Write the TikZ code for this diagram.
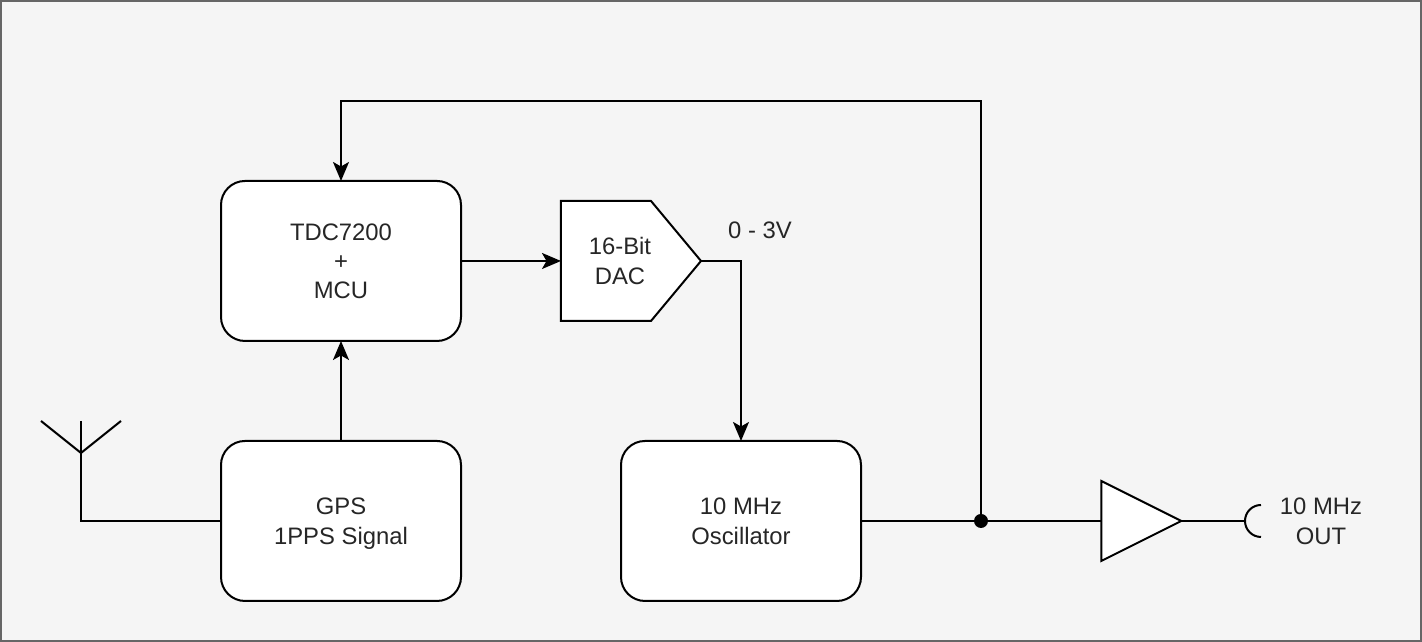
\documentclass[tikz,border=0pt]{standalone}
\usepackage{fontspec}
\setmainfont{Liberation Sans}
\usepackage{tikz}
\usetikzlibrary{shapes.geometric, shapes.symbols, arrows.meta, positioning, calc}

\tikzset{
  wire/.style={line width=0.02cm, black},
  feed/.style={wire, -{Stealth[length=0.19cm, width=0.16cm, inset=0.045cm]}},
  blockbox/.style={draw=black, line width=0.02cm, fill=white, rounded corners=0.24cm,
    minimum width=2.4cm, minimum height=1.6cm, align=center, outer sep=0pt, text depth=0pt},
  labeltext/.style={align=center, inner sep=0pt}
}

\begin{document}
\begin{tikzpicture}[font=\fontsize{6.78}{8.5}\selectfont, text=black!85]
  % Page background
  \useasboundingbox (0,0) rectangle (14.22,6.42);
  \draw[line width=0.02cm, draw=black!60, fill=black!4] (0.01,0.01) rectangle (14.21,6.41);

  % Blocks
  \node[blockbox] (tdc) at (3.41,3.81) {TDC7200\\[-0.01cm]+\\[-0.01cm]MCU};
  \node[blockbox] (gps) at (3.41,1.21) {GPS\\1PPS Signal};
  \node[blockbox] (osc) at (7.41,1.21) {10 MHz\\Oscillator};

  % DAC and output buffer
  \node[draw=black, line width=0.02cm, fill=white, shape=signal, signal to=east,
    signal pointer angle=100.4, minimum width=1.4cm, minimum height=1.2cm,
    inner sep=0pt, outer sep=0pt] (dac) at (6.06,3.81) {};
  \node[labeltext] (daclabel) at (6.2,3.81) {16-Bit\\DAC};
  \node[draw=black, line width=0.02cm, fill=white, shape=isosceles triangle,
    isosceles triangle stretches, minimum width=0.8cm, minimum height=0.8cm,
    inner sep=0pt, outer sep=0pt] (amp) at (11.26,1.21) {};

  % Free ends and junction
  \coordinate (mast) at (0.81,1.21);
  \coordinate (feedpoint) at (0.81,1.89);
  \coordinate (jack) at (12.45,1.21);
  \fill (9.81,1.21) circle (0.07) node (tap) {};

  % Antenna
  \draw[wire] (gps) -- (mast) -- (feedpoint);
  \draw[wire] (0.81,2.21) -- (feedpoint);
  \draw[wire] (0.41,2.21) -- (feedpoint) -- (1.21,2.21);

  % Signal path
  \draw[feed] (gps) -- (tdc);
  \draw[feed] (tdc) -- (dac.west);
  \draw[feed] (dac.east) -| (osc.north);
  \draw[wire] (osc) -- (amp.west);
  \draw[feed] (tap.center) -- (9.81,5.41) -| (tdc.north);

  % Output jack
  \draw[wire] (amp.east) -- (jack);
  \draw[wire] (12.61,1.37) arc (90:270:0.16);

  % Labels
  \node[labeltext] (range) at (7.6,4.12) {0 - 3V};
  \node[labeltext] (outlabel) at (13.21,1.21) {10 MHz\\OUT};
\end{tikzpicture}
\end{document}
